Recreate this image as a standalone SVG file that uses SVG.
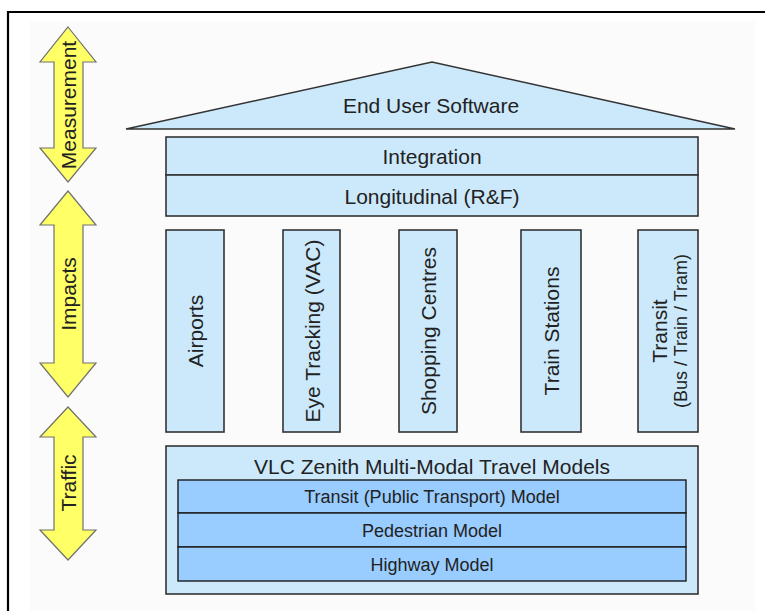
<svg xmlns="http://www.w3.org/2000/svg" width="765" height="611" viewBox="0 0 765 611">
  <style>
    .lbl { font-family: "Liberation Sans", Arial, sans-serif; fill: #222; text-anchor: middle; }
    .big { font-size: 21px; }
    .small { font-size: 18px; }
    .box { fill: #cce9fb; stroke: #333; stroke-width: 1.6; }
    .row { fill: #99ccff; stroke: #1a1a1a; stroke-width: 1.4; }
    .arrow { fill: #ffff66; stroke: #707070; stroke-width: 1.2; stroke-linejoin: miter; }
  </style>

  <!-- page and frame -->
  <rect x="0" y="0" width="765" height="611" fill="#ffffff"/>
  <rect x="30" y="21" width="725" height="590" fill="#fbfbfb"/>
  <g id="frame" stroke="#000" stroke-width="2.2" fill="none">
    <line x1="8" y1="12" x2="765" y2="12"/>
    <line x1="8" y1="11" x2="8" y2="611"/>
  </g>

  <!-- side arrows -->
  <g id="arrow-measurement">
    <polygon class="arrow" points="68,27 96,62 83,62 83,148 96,148 68,182 40,148 54,148 54,62 40,62"/>
    <text class="lbl big" transform="translate(76,105) rotate(-90)">Measurement</text>
  </g>
  <g id="arrow-impacts">
    <polygon class="arrow" points="68,191 96,225 83,225 83,363 96,363 68,397 40,363 54,363 54,225 40,225"/>
    <text class="lbl big" transform="translate(76,294) rotate(-90)">Impacts</text>
  </g>
  <g id="arrow-traffic">
    <polygon class="arrow" points="68,407 96,437 83,437 83,530 96,530 68,560 40,530 54,530 54,437 40,437"/>
    <text class="lbl big" transform="translate(76,483) rotate(-90)">Traffic</text>
  </g>

  <!-- roof -->
  <g id="end-user-software">
    <polygon class="box" points="126,129 432,62 735,129"/>
    <text class="lbl big" x="431" y="113">End User Software</text>
  </g>

  <!-- entablature -->
  <g id="integration">
    <rect class="box" x="166" y="137" width="532" height="38"/>
    <text class="lbl big" x="432" y="164">Integration</text>
  </g>
  <g id="longitudinal">
    <rect class="box" x="166" y="175" width="532" height="41"/>
    <text class="lbl big" x="432" y="204">Longitudinal (R&amp;F)</text>
  </g>

  <!-- pillars -->
  <g id="airports">
    <rect class="box" x="166" y="230" width="58" height="202"/>
    <text class="lbl big" transform="translate(202.5,331) rotate(-90)">Airports</text>
  </g>
  <g id="eye-tracking">
    <rect class="box" x="283" y="230" width="57" height="202"/>
    <text class="lbl big" transform="translate(319.5,331) rotate(-90)">Eye Tracking (VAC)</text>
  </g>
  <g id="shopping-centres">
    <rect class="box" x="399" y="230" width="58" height="202"/>
    <text class="lbl big" transform="translate(436,331) rotate(-90)">Shopping Centres</text>
  </g>
  <g id="train-stations">
    <rect class="box" x="521" y="230" width="60" height="202"/>
    <text class="lbl big" transform="translate(559,331) rotate(-90)">Train Stations</text>
  </g>
  <g id="transit">
    <rect class="box" x="638" y="230" width="60" height="202"/>
    <text class="lbl big" transform="translate(666.5,331) rotate(-90)">Transit</text>
    <text class="lbl small" transform="translate(686.5,331) rotate(-90)">(Bus / Train / Tram)</text>
  </g>

  <!-- foundation -->
  <g id="travel-models">
    <rect class="box" x="166" y="446" width="532" height="148"/>
    <text class="lbl big" x="432" y="474">VLC Zenith Multi-Modal Travel Models</text>
  </g>
  <g id="transit-model">
    <rect class="row" x="178" y="480" width="508" height="33"/>
    <text class="lbl small" x="432" y="503">Transit (Public Transport) Model</text>
  </g>
  <g id="pedestrian-model">
    <rect class="row" x="178" y="513" width="508" height="34"/>
    <text class="lbl small" x="432" y="537">Pedestrian Model</text>
  </g>
  <g id="highway-model">
    <rect class="row" x="178" y="547" width="508" height="34"/>
    <text class="lbl small" x="432" y="571">Highway Model</text>
  </g>

  <!-- no connectors in this figure -->
  <g id="connectors"/>
</svg>
